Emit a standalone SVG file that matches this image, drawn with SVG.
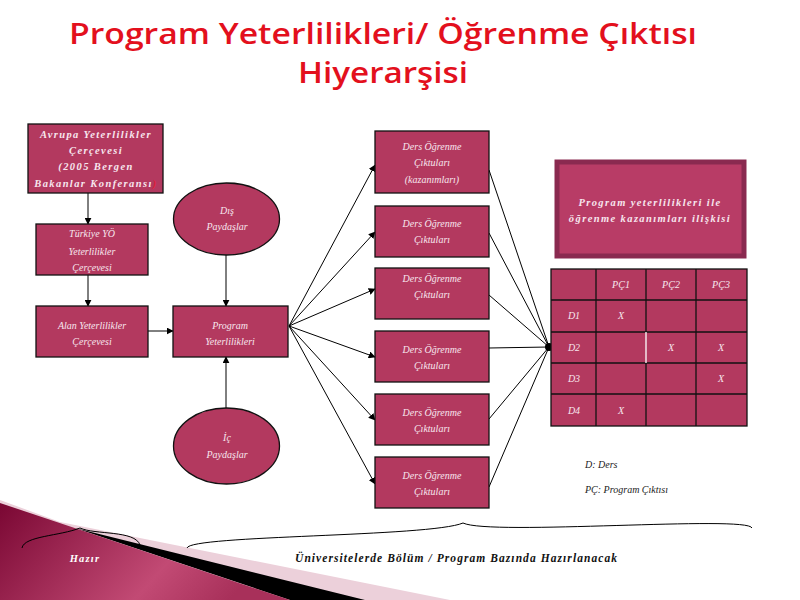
<svg xmlns="http://www.w3.org/2000/svg" width="800" height="600" viewBox="0 0 800 600">
<defs>
<style>
.box{fill:#b3395f;stroke:#111;stroke-width:1.3}
.t{font-family:"Liberation Serif",serif;font-style:italic;fill:#f7e6ee;font-size:10px;text-anchor:middle}
.tb{font-family:"Liberation Serif",serif;font-style:italic;font-weight:bold;fill:#f7e6ee;font-size:10.5px;text-anchor:middle;letter-spacing:1.4px}
.ln{stroke:#000;stroke-width:1;fill:none}
.lg{font-family:"Liberation Serif",serif;font-style:italic;fill:#222;font-size:10px}
.title{font-family:"Open Sans",sans-serif;font-weight:600;fill:#e3101d;font-size:29px;text-anchor:middle}
</style>
<marker id="ah" viewBox="0 0 10 10" refX="9" refY="5" markerWidth="7" markerHeight="7" orient="auto" markerUnits="userSpaceOnUse">
<path d="M0,0 L10,5 L0,10 z" fill="#000"/>
</marker>
<linearGradient id="mg" x1="0" y1="0" x2="1" y2="0.3">
<stop offset="0" stop-color="#7a0733"/>
<stop offset="0.7" stop-color="#c24a74"/>
<stop offset="1" stop-color="#a8305a"/>
</linearGradient>
</defs>
<rect width="800" height="600" fill="#fff"/>

<!-- title -->
<text class="title" x="383" y="44" textLength="628" lengthAdjust="spacingAndGlyphs">Program Yeterlilikleri/ Öğrenme Çıktısı</text>
<text class="title" x="383" y="83" textLength="170" lengthAdjust="spacingAndGlyphs">Hiyerarşisi</text>

<!-- bottom-left decoration -->
<g id="decor">
<polygon points="0,500 60,522 450,600 0,600" fill="#ecd0da"/>
<polygon points="75,528 365,600 290,600" fill="#000"/>
<polygon points="0,503 290,600 0,600" fill="url(#mg)"/>
</g>

<!-- connectors -->
<g id="connectors">
<line class="ln" x1="88" y1="193" x2="88" y2="224" marker-end="url(#ah)"/>
<line class="ln" x1="88" y1="275" x2="88" y2="306" marker-end="url(#ah)"/>
<line class="ln" x1="148" y1="331" x2="173" y2="331" marker-end="url(#ah)"/>
<line class="ln" x1="226" y1="255" x2="226" y2="306" marker-end="url(#ah)"/>
<line class="ln" x1="226" y1="408" x2="226" y2="357" marker-end="url(#ah)"/>
<line class="ln" x1="289" y1="326" x2="375" y2="165" marker-end="url(#ah)"/>
<line class="ln" x1="289" y1="326" x2="375" y2="232" marker-end="url(#ah)"/>
<line class="ln" x1="289" y1="326" x2="375" y2="289" marker-end="url(#ah)"/>
<line class="ln" x1="289" y1="326" x2="375" y2="357" marker-end="url(#ah)"/>
<line class="ln" x1="289" y1="326" x2="375" y2="420" marker-end="url(#ah)"/>
<line class="ln" x1="289" y1="326" x2="375" y2="484" marker-end="url(#ah)"/>
<line class="ln" x1="489" y1="170" x2="549" y2="347"/>
<line class="ln" x1="489" y1="233" x2="549" y2="347"/>
<line class="ln" x1="489" y1="295" x2="549" y2="347"/>
<line class="ln" x1="489" y1="348" x2="549" y2="347"/>
<line class="ln" x1="489" y1="419" x2="549" y2="347"/>
<line class="ln" x1="489" y1="487" x2="549" y2="347"/>
<circle cx="549" cy="347" r="4" fill="#000"/>
</g>

<g id="avrupa">
<rect class="box" x="28" y="124" width="135" height="69"/>
<text class="tb" x="96" y="138">Avrupa Yeterlilikler</text>
<text class="tb" x="96" y="154">Çerçevesi</text>
<text class="tb" x="96" y="170">(2005 Bergen</text>
<text class="tb" x="96" y="187">Bakanlar Konferansı<tspan fill="#e0203a">)</tspan></text>
</g>
<g id="turkiye">
<rect class="box" x="36" y="224" width="112" height="51"/>
<text class="t" x="92" y="237">Türkiye YÖ</text>
<text class="t" x="92" y="255">Yeterlilikler</text>
<text class="t" x="92" y="271">Çerçevesi</text>
</g>
<g id="alan">
<rect class="box" x="36" y="306" width="112" height="51"/>
<text class="t" x="92" y="329">Alan Yeterlilikler</text>
<text class="t" x="92" y="345">Çerçevesi</text>
</g>
<g id="program">
<rect class="box" x="173" y="306" width="115" height="51"/>
<text class="t" x="230" y="329">Program</text>
<text class="t" x="230" y="345">Yeterlilikleri</text>
</g>
<g id="dis">
<ellipse class="box" cx="226.5" cy="219" rx="53" ry="36"/>
<text class="t" x="227" y="214">Dış</text>
<text class="t" x="227" y="230">Paydaşlar</text>
</g>
<g id="ic">
<ellipse class="box" cx="226.5" cy="446" rx="53" ry="38"/>
<text class="t" x="227" y="441">İç</text>
<text class="t" x="227" y="458">Paydaşlar</text>
</g>

<g id="ders1">
<rect class="box" x="375" y="131" width="114" height="62"/>
<text class="t" x="432" y="150">Ders Öğrenme</text>
<text class="t" x="432" y="166">Çıktuları</text>
<text class="t" x="432" y="183">(kazanımları)</text>
</g>
<g id="ders2">
<rect class="box" x="375" y="206" width="114" height="51"/>
<text class="t" x="432" y="227">Ders Öğrenme</text>
<text class="t" x="432" y="243">Çıktuları</text>
</g>
<g id="ders3">
<rect class="box" x="375" y="268" width="114" height="51"/>
<text class="t" x="432" y="282">Ders Öğrenme</text>
<text class="t" x="432" y="298">Çıktuları</text>
</g>
<g id="ders4">
<rect class="box" x="375" y="331" width="114" height="51"/>
<text class="t" x="432" y="353">Ders Öğrenme</text>
<text class="t" x="432" y="369">Çıktuları</text>
</g>
<g id="ders5">
<rect class="box" x="375" y="394" width="114" height="51"/>
<text class="t" x="432" y="416">Ders Öğrenme</text>
<text class="t" x="432" y="432">Çıktuları</text>
</g>
<g id="ders6">
<rect class="box" x="375" y="457" width="114" height="51"/>
<text class="t" x="432" y="479">Ders Öğrenme</text>
<text class="t" x="432" y="495">Çıktuları</text>
</g>

<g id="iliski">
<rect x="557" y="162" width="187" height="94" fill="#b83c66" stroke="#8a2a50" stroke-width="5"/>
<text class="tb" x="650" y="206" font-size="11.5" letter-spacing="1.7">Program yeterlilikleri  ile</text>
<text class="tb" x="650" y="222" font-size="11.5" letter-spacing="1.7">öğrenme kazanımları ilişkisi</text>
</g>

<g id="tablo">
<rect x="551" y="269" width="196" height="157" fill="#b3395f" stroke="#111" stroke-width="1.3"/>
<g stroke="#111" stroke-width="1.3">
<line x1="596" y1="269" x2="596" y2="426"/>
<line x1="646" y1="269" x2="646" y2="332"/>
<line x1="646" y1="363" x2="646" y2="426"/>
<line x1="696" y1="269" x2="696" y2="426"/>
<line x1="551" y1="300" x2="747" y2="300"/>
<line x1="551" y1="332" x2="747" y2="332"/>
<line x1="551" y1="363" x2="747" y2="363"/>
<line x1="551" y1="394" x2="747" y2="394"/>
</g>
<line x1="646" y1="332" x2="646" y2="363" stroke="#fff" stroke-width="1.3"/>
<text class="t" x="621" y="288" font-size="9">PÇ1</text>
<text class="t" x="671" y="288" font-size="9">PÇ2</text>
<text class="t" x="721" y="288" font-size="9">PÇ3</text>
<text class="t" x="574" y="319" font-size="9">D1</text>
<text class="t" x="621" y="319" font-size="9">X</text>
<text class="t" x="574" y="351" font-size="9">D2</text>
<text class="t" x="671" y="351" font-size="9">X</text>
<text class="t" x="721" y="351" font-size="9">X</text>
<text class="t" x="574" y="382" font-size="9">D3</text>
<text class="t" x="721" y="382" font-size="9">X</text>
<text class="t" x="574" y="414" font-size="9">D4</text>
<text class="t" x="621" y="414" font-size="9">X</text>
</g>

<g id="legend">
<text class="lg" x="585" y="468">D: Ders</text>
<text class="lg" x="585" y="493">PÇ: Program Çıktısı</text>
</g>

<g id="braces">
<path class="ln" d="M22,548 C24,536 60,536 80,528 C95,535 135,530 140,545"/>
<path class="ln" d="M187,548 C190,535 430,537 463,523 C490,536 748,515 752,528"/>
</g>
<text x="85" y="562" font-family="Liberation Serif,serif" font-style="italic" font-weight="bold" font-size="10.5" fill="#fff" text-anchor="middle" letter-spacing="1.2">Hazır</text>
<text x="456" y="562" font-family="Liberation Serif,serif" font-style="italic" font-weight="bold" font-size="11.5" fill="#111" text-anchor="middle" textLength="322" lengthAdjust="spacing">Üniversitelerde Bölüm / Program Bazında Hazırlanacak</text>
</svg>
